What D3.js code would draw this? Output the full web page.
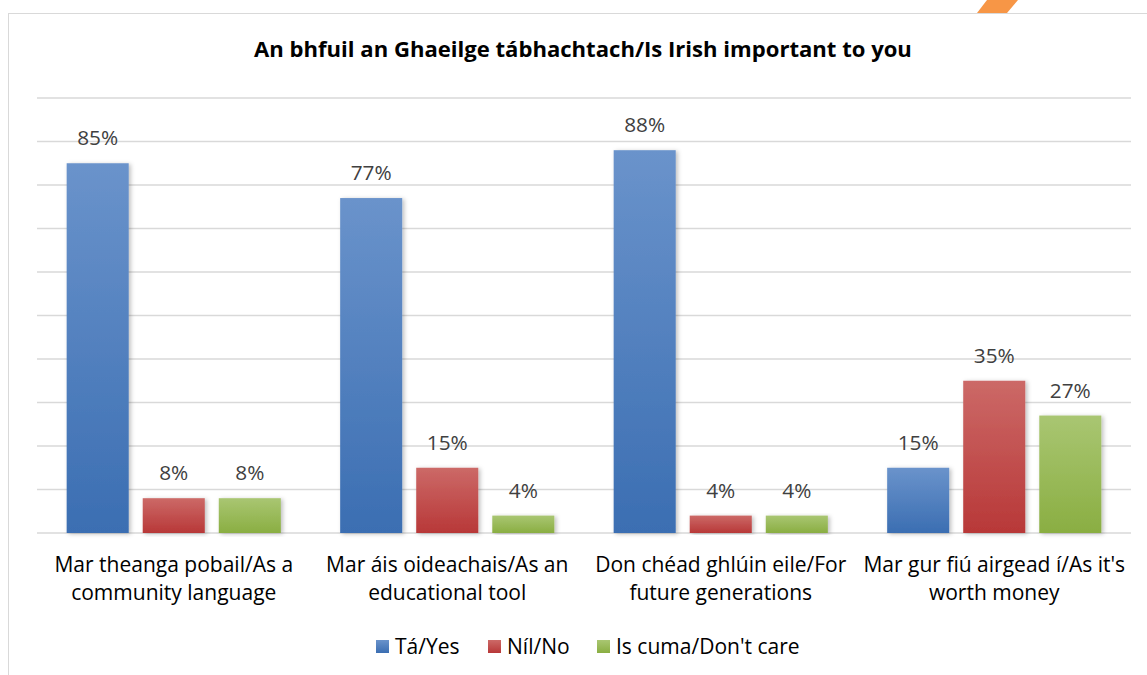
<!DOCTYPE html>
<html>
<head>
<meta charset="utf-8">
<script src="https://cdn.jsdelivr.net/npm/d3@7"></script>
<style>
  body { margin: 0; background: #fff; }
  svg { display: block; font-family: 'Open Sans', Lato, sans-serif; }
</style>
</head>
<body>
<svg id="chart" width="1147" height="675"></svg>
<script>
let title = 'An bhfuil an Ghaeilge tábhachtach/Is Irish important to you'

let categories = [
    ['Mar theanga pobail/As a', 'community language'],
    ['Mar áis oideachais/As an', 'educational tool'],
    ['Don chéad ghlúin eile/For', 'future generations'],
    ['Mar gur fiú airgead í/As it\'s', 'worth money']
]
let series_names = ['Tá/Yes', 'Níl/No', 'Is cuma/Don\'t care']
let yes_values = [85, 77, 88, 15]
let no_values = [8, 15, 4, 35]
let dontcare_values = [8, 4, 4, 27]
let y_ticks = [0, 10, 20, 30, 40, 50, 60, 70, 80, 90, 100]

// top / bottom of each gradient
let colors = [
    ['#6a93cb', '#3b6eb2'],
    ['#cc6967', '#b83838'],
    ['#a9c672', '#8aae42']
]

let x0 = 37, x1 = 1131
let y_top = 98, y_base = 533

let svg = d3.select('#chart')

// shrink/grow a font so a text hits the width it has in the original (Calibri)
function fit(sel, width) {
    let w = sel.node().getComputedTextLength()
    let size = +sel.attr('font-size')
    return size * width / w
}

// frame
svg.append('rect')
    .attr('x', 8.5).attr('y', 13.5)
    .attr('width', 1160).attr('height', 700)
    .attr('fill', 'none')
    .attr('stroke', '#d9d9d9')
    .attr('stroke-width', 1)

// orange stripe peeking over the frame
svg.append('path')
    .attr('d', 'M977,13 L987,0 L1018,0 L1007,13 Z')
    .attr('fill', '#f79646')

let defs = svg.append('defs')
colors.forEach((c, i) => {
    let g = defs.append('linearGradient')
        .attr('id', `grad-${i}`)
        .attr('x1', 0).attr('y1', 0).attr('x2', 0).attr('y2', 1)
    g.append('stop').attr('offset', '0%').attr('stop-color', c[0])
    g.append('stop').attr('offset', '100%').attr('stop-color', c[1])
})
let shadow = defs.append('filter').attr('id', 'shadow')
    .attr('x', '-20%').attr('y', '-10%').attr('width', '140%').attr('height', '120%')
shadow.append('feDropShadow')
    .attr('dx', 2).attr('dy', 1).attr('stdDeviation', 2)
    .attr('flood-color', '#000').attr('flood-opacity', 0.25)

let title_el = svg.append('text')
    .attr('x', 583).attr('y', 57)
    .attr('text-anchor', 'middle')
    .attr('font-size', 20)
    .attr('font-weight', 'bold')
    .attr('fill', '#000')
    .text(title)
title_el.attr('font-size', fit(title_el, 658))

let x = d3.scaleBand()
    .domain(d3.range(categories.length))
    .range([x0, x1])

let y = d3.scaleLinear()
    .domain([0, 100])
    .range([y_base, y_top])

// gridlines
svg.append('g')
    .selectAll('line')
    .data(y_ticks)
    .join('line')
    .attr('x1', x0).attr('x2', x1)
    .attr('y1', d => y(d)).attr('y2', d => y(d))
    .attr('stroke', '#d9d9d9')
    .attr('stroke-width', 1.3)

let xs = d3.scaleBand()
    .domain(d3.range(3))
    .range([0, x.bandwidth()])
    .paddingInner(0.184)
    .paddingOuter(0.39)

// value label size, fitted on "85%"
let probe = svg.append('text').attr('font-size', 19).text('85%')
let value_size = fit(probe, 41)
probe.remove()

let all_series = [yes_values, no_values, dontcare_values]

all_series.forEach((vals, s) => {
    let g = svg.append('g')
    g.selectAll('rect')
        .data(vals)
        .join('rect')
        .attr('x', (d, i) => x(i) + xs(s))
        .attr('y', d => y(d))
        .attr('width', xs.bandwidth())
        .attr('height', d => y(0) - y(d))
        .attr('fill', `url(#grad-${s})`)
        .attr('filter', 'url(#shadow)')

    g.selectAll('text')
        .data(vals)
        .join('text')
        .attr('x', (d, i) => x(i) + xs(s) + xs.bandwidth() / 2)
        .attr('y', d => y(d) - 18)
        .attr('text-anchor', 'middle')
        .attr('font-size', value_size)
        .attr('fill', '#404040')
        .text(d => d + '%')
})

// category labels
let probe2 = svg.append('text').attr('font-size', 20).text(categories[0][0])
let cat_size = fit(probe2, 239)
probe2.remove()

let cat = svg.append('g')
    .selectAll('text')
    .data(categories)
    .join('text')
    .attr('text-anchor', 'middle')
    .attr('font-size', cat_size)
    .attr('fill', '#000')
cat.selectAll('tspan')
    .data((d, i) => d.map(t => ({ t, i })))
    .join('tspan')
    .attr('x', d => x(d.i) + x.bandwidth() / 2)
    .attr('y', (d, j) => 572 + j * 28)
    .text(d => d.t)

// legend
let legend_x = [376, 488, 597]
let legend = svg.append('g')
series_names.forEach((name, i) => {
    legend.append('rect')
        .attr('x', legend_x[i]).attr('y', 640)
        .attr('width', 13).attr('height', 13)
        .attr('fill', `url(#grad-${i})`)
    legend.append('text')
        .attr('x', legend_x[i] + 19).attr('y', 654)
        .attr('font-size', cat_size)
        .attr('fill', '#000')
        .text(name)
})
</script>
</body>
</html>
